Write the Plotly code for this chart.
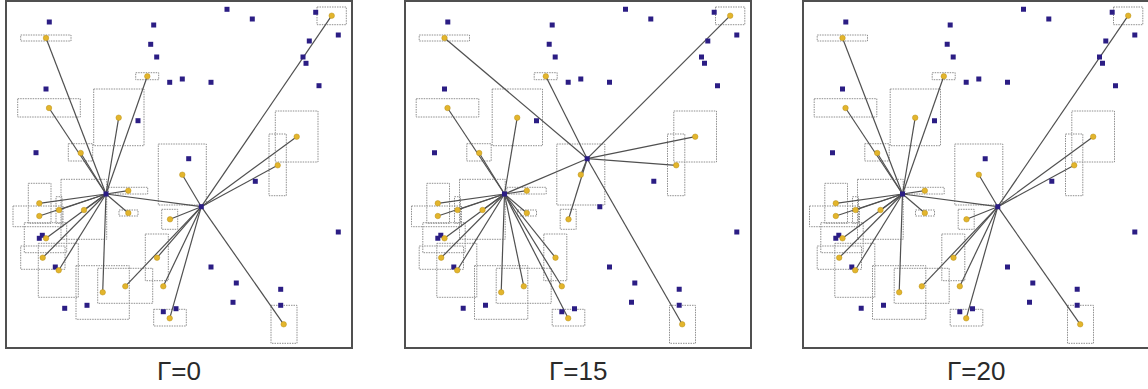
import plotly.graph_objects as go

# ---------------- data (panel-relative units, y measured downward) ----------------
cand_x = [42.3, 220, 245.3, 146.7, 308.7, 331.3, 302.3, 143.7, 149.7, 296, 299,
          162.7, 175.3, 204, 312, 39, 131, 29, 181.7, 248.3, 331.3, 35.3, 32.3,
          48.3, 204, 229.3, 273.7, 226, 273.7, 57.7, 80, 156.3, 169, 99, 194.3]
cand_y = [20, 7.3, 17, 23, 10.3, 33, 39, 42.3, 55, 55, 61.3,
          80.3, 77, 80.3, 83.7, 87, 118.7, 150.7, 156.7, 179.3, 230, 233.3, 236.3,
          265, 265, 281, 287.3, 300.3, 303.3, 306.3, 303.3, 309.7, 306.7, 192, 204.7]

dem_x = [39, 324.7, 140.3, 42, 111.7, 73.7, 289.7, 270.7, 175.3, 121.3, 121.3, 32.3, 32.3,
         52, 77, 39, 35.7, 51.7, 95.7, 118.3, 150, 156.3, 162.7, 276.7, 163]
dem_y = [36, 13.7, 74.3, 106, 115.7, 151, 134.7, 163.3, 172.7, 188.7, 211, 201.3, 214,
         208, 208, 236.3, 255.7, 268.3, 290.3, 284.3, 255.7, 284.3, 316.3, 322.3, 217.3]

box_x0 = [13.7, 310, 128.7, 10.7, 86.7, 61.3, 268.3, 262, 151.3, 101.3, 112, 21.3, 6,
          49, 54, 17.3, 13.7, 31.3, 69, 90.7, 138.3, None, 146.7, 264, 154.7]
box_x1 = [64, 339.3, 151.7, 73.3, 137, 85.7, 311, 279.3, 199.3, 140.7, 131, 44, 56,
          55, 99.7, 59.7, 58, 71.3, 122.3, 145.7, 161.3, None, 179.3, 290, 170.7]
box_y0 = [33, 5, 70.7, 96.7, 87, 141.7, 109, 132, 142, 185.3, 208, 181.3, 204,
          194.7, 177.3, 220.7, 244, 241.3, 263.7, 266.3, 232, None, 307.3, 303.3, 207.3]
box_y1 = [39, 22.7, 77.7, 115, 143.7, 159, 160, 193.7, 203, 192, 214, 221.3, 224.7,
          221.3, 237.3, 250.7, 267.3, 295.3, 317.3, 301.3, 278.7, None, 324, 341.3, 227.3]

panel_labels = ["\u0393=0", "\u0393=15", "\u0393=20"]
panel_hubs = [[33, 34], [33, 18], [33, 34]]
assign_g0 = [0, 1, 0, 0, 0, 0, 1, 1, 1, 0, 0, 0, 0, 0, 0, 0, 0, 0, 0, 1, 1, 1, 1, 1, 1]
assign_g15 = [1, 1, 1, 0, 0, 0, 1, 1, 1, 0, 0, 0, 0, 0, 0, 0, 0, 0, 0, 0, 0, 0, 0, 1, 1]
assign_g20 = [0, 1, 0, 0, 0, 0, 1, 1, 1, 0, 0, 0, 0, 0, 0, 0, 0, 0, 0, 1, 1, 1, 1, 1, 1]
panel_assign = [assign_g0, assign_g15, assign_g20]

# ---------------- layout geometry ----------------
W, H = 1148, 389
px_left = [7, 405.5, 803.5]
px_w = 344
px_top, px_bot = 2, 347
XR = [0, 344]
YR = [345, 0]

BLUE = "#2b1d84"
GOLD = "#e3b52c"
LINE = "#505050"
BOXC = "#8f8f8f"

fig = go.Figure()
shapes = []
annotations = []

for p in range(3):
    xa = "x" if p == 0 else f"x{p+1}"
    ya = "y" if p == 0 else f"y{p+1}"
    hubs = panel_hubs[p]
    asg = panel_assign[p]

    # uncertainty boxes
    for i in range(len(dem_x)):
        if box_x0[i] is None:
            continue
        shapes.append(dict(type="rect", xref=xa, yref=ya,
                           x0=box_x0[i], x1=box_x1[i], y0=box_y0[i], y1=box_y1[i],
                           line=dict(color=BOXC, width=1, dash="1.5px,1px"),
                           fillcolor="rgba(0,0,0,0)", layer="below"))

    # allocation lines
    lx, ly = [], []
    h0, h1 = hubs
    lx += [cand_x[h0], cand_x[h1], None]
    ly += [cand_y[h0], cand_y[h1], None]
    for i in range(len(dem_x)):
        h = hubs[asg[i]]
        lx += [cand_x[h], dem_x[i], None]
        ly += [cand_y[h], dem_y[i], None]
    fig.add_trace(go.Scatter(x=lx, y=ly, mode="lines", xaxis=xa, yaxis=ya,
                             line=dict(color=LINE, width=1.2), hoverinfo="skip",
                             showlegend=False))
    # candidate points
    fig.add_trace(go.Scatter(x=cand_x, y=cand_y, mode="markers", xaxis=xa, yaxis=ya,
                             marker=dict(symbol="square", size=5, color=BLUE,
                                         line=dict(width=0)),
                             showlegend=False))
    # demand points
    fig.add_trace(go.Scatter(x=dem_x, y=dem_y, mode="markers", xaxis=xa, yaxis=ya,
                             marker=dict(symbol="circle", size=5.5, color=GOLD,
                                         line=dict(width=0.5, color="#b8901a")),
                             showlegend=False))

    annotations.append(dict(text=panel_labels[p], xref="paper", yref="paper",
                            x=(px_left[p] + px_w / 2) / W, y=(H - 371) / H,
                            xanchor="center", yanchor="middle", showarrow=False,
                            font=dict(family="Liberation Sans, Arial, sans-serif",
                                      size=26, color="#2a2a2a")))

axis_common = dict(showgrid=False, zeroline=False, showticklabels=False, ticks="",
                   showline=True, mirror=True, linecolor="#505050", linewidth=1.5,
                   fixedrange=True)
layout = dict(width=W, height=H, margin=dict(l=0, r=0, t=0, b=0),
              paper_bgcolor="white", plot_bgcolor="white",
              shapes=shapes, annotations=annotations)
for p in range(3):
    xk = "xaxis" if p == 0 else f"xaxis{p+1}"
    yk = "yaxis" if p == 0 else f"yaxis{p+1}"
    ya = "y" if p == 0 else f"y{p+1}"
    xa = "x" if p == 0 else f"x{p+1}"
    layout[xk] = dict(axis_common, domain=[px_left[p] / W, (px_left[p] + px_w) / W],
                      range=XR, anchor=ya)
    layout[yk] = dict(axis_common, domain=[(H - px_bot) / H, (H - px_top) / H],
                      range=YR, anchor=xa)

fig.update_layout(**layout)
fig.write_html("out.html", config={"displayModeBar": False},
               post_script="document.body.style.margin='0';document.body.style.overflow='hidden';")
